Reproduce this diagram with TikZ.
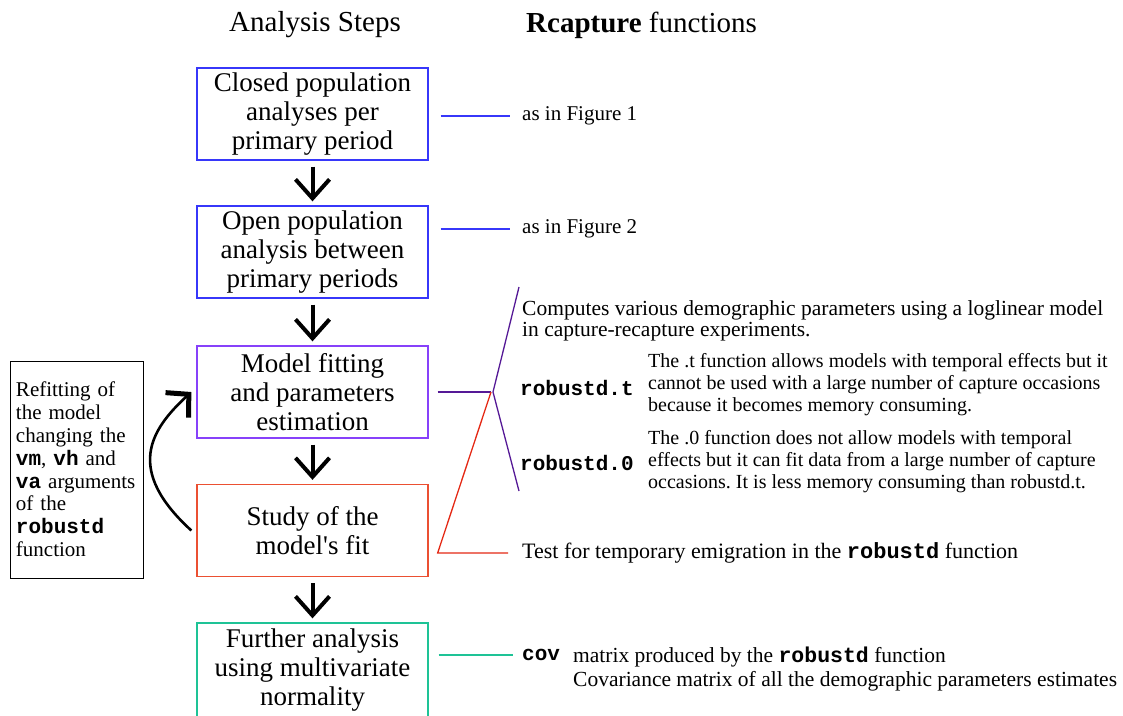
\documentclass[tikz,border=0pt]{standalone}
\usepackage{fontspec}
\setmainfont{Liberation Serif}
\setmonofont{Liberation Mono}
\usepackage{xcolor}
\usepackage{tikz}
\usetikzlibrary{arrows.meta,calc}

\definecolor{stepblue}{RGB}{55,55,250}
\definecolor{stepviolet}{RGB}{135,65,250}
\definecolor{linkpurple}{RGB}{85,25,150}
\definecolor{stepred}{RGB}{235,80,50}
\definecolor{linkred}{RGB}{228,40,20}
\definecolor{stepgreen}{RGB}{30,195,150}

\newcommand{\rfun}[1]{\texttt{\bfseries #1}}

\begin{document}
\frenchspacing
\begin{tikzpicture}[
    x=1pt, y=-1pt,
    box/.style = {rectangle, draw, line width=1.3pt, minimum height=92pt, minimum width=231pt,
                 inner sep=0pt, align=center, font=\fontsize{27}{29}\selectfont},
    txt/.style = {anchor=west, inner sep=0pt, align=left, font=\fontsize{21}{22}\selectfont},
    desc/.style = {txt, font=\fontsize{20}{22}\selectfont},
    head/.style = {inner sep=0pt, font=\fontsize{29}{31}\selectfont},
    link/.style = {line width=1.3pt},
    arr/.style = {line width=4pt, -{Straight Barb[length=19pt,width=34pt]}}
]
\useasboundingbox (0,0) rectangle (1123,715);

% Headings
\node[head] (hsteps) at (315,25) {Analysis Steps};
\node[head, anchor=west] (hfuncs) at (526,25) {\textbf{Rcapture} functions};

% Analysis steps
\node[box, draw=stepblue] (closed) at (312.5,114) {Closed population\\analyses per\\primary period};
\node[box, draw=stepblue] (open) at (312.5,252) {Open population\\analysis between\\primary periods};
\node[box, draw=stepviolet] (fit) at (312.5,392) {Model fitting\\and parameters\\estimation};
\node[box, draw=stepred] (gof) at (312.5,530.5) {Study of the\\model\textquotesingle s fit};
\node[box, draw=stepgreen, minimum height=94pt] (further) at (312.5,670) {Further analysis\\using multivariate\\normality};

\draw[arr] ([yshift=-6pt]closed.south) -- ([yshift=4pt]open.north);
\draw[arr] ([yshift=-6pt]open.south) -- ([yshift=4pt]fit.north);
\draw[arr] ([yshift=-6pt]fit.south) -- ([yshift=4pt]gof.north);
\draw[arr] ([yshift=-6pt]gof.south) -- ([yshift=4pt]further.north);

% Refitting loop
\node[txt, draw, line width=1pt, anchor=center, text width=121pt, inner sep=6pt,
      minimum height=217pt, font=\fontsize{21}{22.8}\selectfont] (refit) at (76.5,469.5)
  {Refitting of\\the model\\changing the\\\rfun{vm}, \rfun{vh} and\\\rfun{va} arguments\\of the\\\rfun{robustd}\\function};
\draw[line width=2.6pt, -{Straight Barb[length=16pt,width=34pt,line width=5pt]}]
  ([xshift=-5pt]gof.west) .. controls (125,470) and (150,430) .. ([xshift=-5pt]fit.west);

% Rcapture functions
\node[txt] (fig1) at (522,116) {as in Figure 1};
\node[txt] (fig2) at (522,229) {as in Figure 2};
\node[txt, anchor=north west, font=\fontsize{21.5}{21}\selectfont] (compute) at (522,300)
  {Computes various demographic parameters using a loglinear model\\in capture-recapture experiments.};
\node[txt] (robt) at (520,388) {\rfun{robustd.t}};
\node[desc] (robtdesc) at (648,385)
  {The .t function allows models with temporal effects but it\\cannot be used with a large number of capture occasions\\because it becomes memory consuming.};
\node[txt] (robz) at (520,463) {\rfun{robustd.0}};
\node[desc] (robzdesc) at (648,462)
  {The .0 function does not allow models with temporal\\effects but it can fit data from a large number of capture\\occasions. It is less memory consuming than robustd.t.};
\node[txt, font=\fontsize{22}{22}\selectfont] (test) at (522,553) {Test for temporary emigration in the \rfun{robustd} function};
\node[txt] (cov) at (522,655) {\rfun{cov}};
\node[txt, anchor=north west, font=\fontsize{21.5}{24}\selectfont] (covdesc) at (573,647)
  {matrix produced by the \rfun{robustd} function\\Covariance matrix of all the demographic parameters estimates};

% Links
\coordinate (brk) at (491,392);
\coordinate (brktop) at (519,287);
\coordinate (brkbot) at (519,491);

\draw[link, stepblue] ($(closed.east |- fig1.west)+(12,0)$) -- ([xshift=-12pt]fig1.west);
\draw[link, stepblue] ($(open.east |- fig2.west)+(12,0)$) -- ([xshift=-12pt]fig2.west);
\draw[link, linkpurple] ($(fit.east)+(9,0)$) -- (brk);
\draw[link, linkpurple] (brktop) -- ($(brk)+(2,0)$) -- (brkbot);
\draw[link, linkred] (brk) -- ($(gof.east |- test.west)+(9,0)$) -- ([xshift=-14pt]test.west);
\draw[link, stepgreen] ($(further.east |- cov.west)+(10,0)$) -- ([xshift=-9pt]cov.west);

\end{tikzpicture}
\end{document}
